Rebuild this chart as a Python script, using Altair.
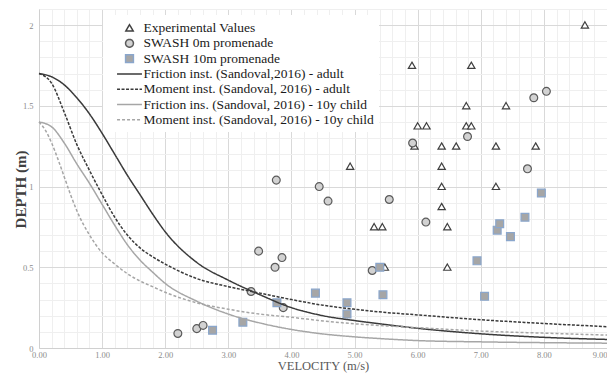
import altair as alt
import pandas as pd

# ---------------- data ----------------
series_names = [
    "Experimental Values",
    "SWASH 0m promenade",
    "SWASH 10m promenade",
    "Friction inst. (Sandoval,2016) - adult",
    "Moment inst. (Sandoval, 2016) - adult",
    "Friction ins. (Sandoval, 2016) - 10y child",
    "Moment inst. (Sandoval, 2016) - 10y child",
]

exp_x = [5.91, 6.85, 8.65, 4.93, 6.77, 7.40, 6.00, 6.14, 6.77, 6.85, 5.95, 6.38,
         6.61, 7.24, 7.87, 6.38, 6.38, 7.24, 6.38, 6.47, 5.31, 5.44, 5.48, 6.47]
exp_y = [1.75, 1.75, 2.0, 1.125, 1.5, 1.5, 1.375, 1.375, 1.375, 1.375, 1.25, 1.25,
         1.25, 1.25, 1.25, 1.125, 1.0, 1.0, 0.875, 0.75, 0.75, 0.75, 0.5, 0.5]

sw0_x = [7.84, 8.04, 5.92, 6.79, 7.74, 5.55, 6.13, 3.76, 4.44, 4.58, 3.48, 3.85,
         3.74, 5.28, 3.36, 3.87, 2.20, 2.50, 2.60]
sw0_y = [1.55, 1.59, 1.27, 1.31, 1.11, 0.92, 0.78, 1.04, 1.00, 0.91, 0.60, 0.56,
         0.50, 0.48, 0.35, 0.25, 0.09, 0.12, 0.14]

sw10_x = [2.75, 3.23, 3.77, 4.38, 4.88, 4.88, 5.40, 5.45, 6.94, 7.06, 7.26, 7.30,
          7.47, 7.70, 7.96]
sw10_y = [0.11, 0.16, 0.28, 0.34, 0.28, 0.21, 0.50, 0.33, 0.54, 0.32, 0.73, 0.77,
          0.69, 0.81, 0.96]

curve_x = [0, 0.2, 0.4, 0.6, 0.8, 1.0, 1.2, 1.4, 1.6, 1.8, 2.0, 2.5, 3.0, 3.5,
           4.0, 4.5, 5.0, 5.5, 6.0, 7.0, 8.0, 9.0]
fric_adult = [1.70, 1.68, 1.63, 1.55, 1.45, 1.33, 1.20, 1.07, 0.95, 0.83, 0.72,
              0.53, 0.42, 0.33, 0.25, 0.20, 0.17, 0.145, 0.122, 0.088, 0.066, 0.053]
mom_adult = [1.70, 1.64, 1.46, 1.26, 1.10, 0.95, 0.81, 0.70, 0.62, 0.565, 0.52,
             0.43, 0.38, 0.34, 0.30, 0.265, 0.24, 0.22, 0.205, 0.175, 0.152, 0.132]
fric_child = [1.40, 1.37, 1.27, 1.14, 1.02, 0.89, 0.76, 0.64, 0.545, 0.47, 0.40,
              0.29, 0.21, 0.155, 0.115, 0.087, 0.069, 0.056, 0.046, 0.038, 0.033, 0.030]
mc_x = [0, 0.1, 0.2, 0.3, 0.4, 0.5, 0.6, 0.8, 1.0, 1.2, 1.4, 1.6, 1.8, 2.0, 2.5,
        3.0, 3.5, 4.0, 4.5, 5.0, 5.5, 6.0, 7.0, 8.0, 9.0]
mom_child = [1.40, 1.35, 1.27, 1.17, 1.06, 0.95, 0.85, 0.70, 0.59, 0.52, 0.46,
             0.415, 0.38, 0.345, 0.28, 0.24, 0.21, 0.19, 0.168, 0.15, 0.137, 0.126,
             0.105, 0.092, 0.080]

x_ticks = [round(i * 0.2, 1) for i in range(46)]
y_ticks = [round(i * 0.1, 1) for i in range(22)]

# ---------------- tables ----------------
points_df = pd.concat([
    pd.DataFrame({"x": exp_x, "y": exp_y, "series": series_names[0]}),
    pd.DataFrame({"x": sw0_x, "y": sw0_y, "series": series_names[1]}),
    pd.DataFrame({"x": sw10_x, "y": sw10_y, "series": series_names[2]}),
], ignore_index=True)

lines_df = pd.concat([
    pd.DataFrame({"x": curve_x, "y": fric_adult, "series": series_names[3]}),
    pd.DataFrame({"x": curve_x, "y": mom_adult, "series": series_names[4]}),
    pd.DataFrame({"x": curve_x, "y": fric_child, "series": series_names[5]}),
    pd.DataFrame({"x": mc_x, "y": mom_child, "series": series_names[6]}),
], ignore_index=True)

# ---------------- styles ----------------
# custom symbol paths live in the [-1, 1] unit box (scaled by sqrt(size)/2)
TRI = "M0,-0.48L0.52,0.42L-0.52,0.42Z"
CIRC = "M0.56,0A0.56,0.56,0,1,1,-0.56,0A0.56,0.56,0,1,1,0.56,0Z"
SQ = "M-0.56,-0.56H0.56V0.56H-0.56Z"
LINE = "M-1.78,0H1.78"

shape_range = [TRI, CIRC, SQ, LINE, LINE, LINE, LINE]
fill_range = ["#ffffff", "#d2d2d2", "#a6a6a6", "transparent", "transparent",
              "transparent", "transparent"]
stroke_range = ["#404040", "#5a5a5a", "#8aa6cc", "#3a3a3a", "#3a3a3a",
                "#a6a6a6", "#a6a6a6"]
dash_range = [[1, 0], [1, 0], [1, 0], [1, 0], [3, 1.5], [1, 0], [3, 2]]

x_enc = alt.X(
    "x:Q",
    scale=alt.Scale(domain=[0, 9], nice=False, zero=False),
    axis=alt.Axis(
        title="VELOCITY (m/s)",
        values=x_ticks,
        labelExpr="abs(datum.value - round(datum.value)) < 0.001 ? format(datum.value, '.2f') : ''",
        labelAlign={"condition": {"test": "datum.value > 8.9", "value": "right"},
                    "value": "center"},
        gridColor={"condition": {"test": "abs(datum.value - round(datum.value)) < 0.001",
                                 "value": "#d9d9d9"}, "value": "#efefef"},
        labelOverlap=False,
        labelFlush=False,
        ticks=False,
        labelPadding=2,
        titlePadding=1,
        titleFontSize=12.5,
        titleColor="#595959",
        titleFontWeight="normal",
    ),
)
y_enc = alt.Y(
    "y:Q",
    scale=alt.Scale(domain=[0, 2.1], nice=False, zero=False),
    axis=alt.Axis(
        title="DEPTH (m)",
        values=y_ticks,
        labelExpr="abs(datum.value * 2 - round(datum.value * 2)) < 0.001 ? format(datum.value, '~g') : ''",
        gridColor={"condition": {"test": "abs(datum.value * 2 - round(datum.value * 2)) < 0.001",
                                 "value": "#d9d9d9"}, "value": "#efefef"},
        labelOverlap=False,
        ticks=False,
        labelPadding=6,
        titleX=-19,
        titleY=180,
        titleAlign="center",
        titleBaseline="middle",
        titleAngle=270,
        titleFontSize=15,
        titleColor="#404040",
        titleFontWeight="bold",
    ),
)

points = alt.Chart(points_df).mark_point(
    filled=True, size=196, strokeWidth=1.2, opacity=1
).encode(
    x=x_enc,
    y=y_enc,
    shape=alt.Shape("series:N", title=None,
                    scale=alt.Scale(domain=series_names, range=shape_range)),
    fill=alt.Fill("series:N", title=None,
                  scale=alt.Scale(domain=series_names, range=fill_range)),
    stroke=alt.Stroke("series:N", title=None,
                      scale=alt.Scale(domain=series_names, range=stroke_range)),
)

lines = alt.Chart(lines_df).mark_line(
    interpolate="monotone", strokeWidth=1.5
).encode(
    x=x_enc,
    y=y_enc,
    stroke=alt.Stroke("series:N", title=None,
                      scale=alt.Scale(domain=series_names, range=stroke_range)),
    strokeDash=alt.StrokeDash("series:N", title=None,
                              scale=alt.Scale(domain=series_names, range=dash_range)),
)

chart = alt.layer(points, lines).properties(
    width=568,
    height=339,
    padding={"left": 31, "top": 1, "right": 0, "bottom": 25},
    autosize=alt.AutoSizeParams(type="none"),
).configure_view(
    stroke=None
).configure_axis(
    labelFont="Liberation Serif",
    titleFont="Liberation Serif",
    labelFontSize=8.5,
    labelColor="#8c8c8c",
    domainColor="#d0d0d0",
    domainWidth=1,
    gridWidth=1,
).configure_legend(
    orient="none",
    legendX=64,
    legendY=6,
    padding=5,
    fillColor="white",
    labelFont="Liberation Serif",
    labelFontSize=13.5,
    labelColor="#1a1a1a",
    labelLimit=400,
    symbolSize=196,
    symbolStrokeWidth=1.5,
    symbolOffset=13.5,
    labelOffset=6,
    rowPadding=0.3,
)

chart.save("out.html", embed_options={"renderer": "svg", "actions": False})
